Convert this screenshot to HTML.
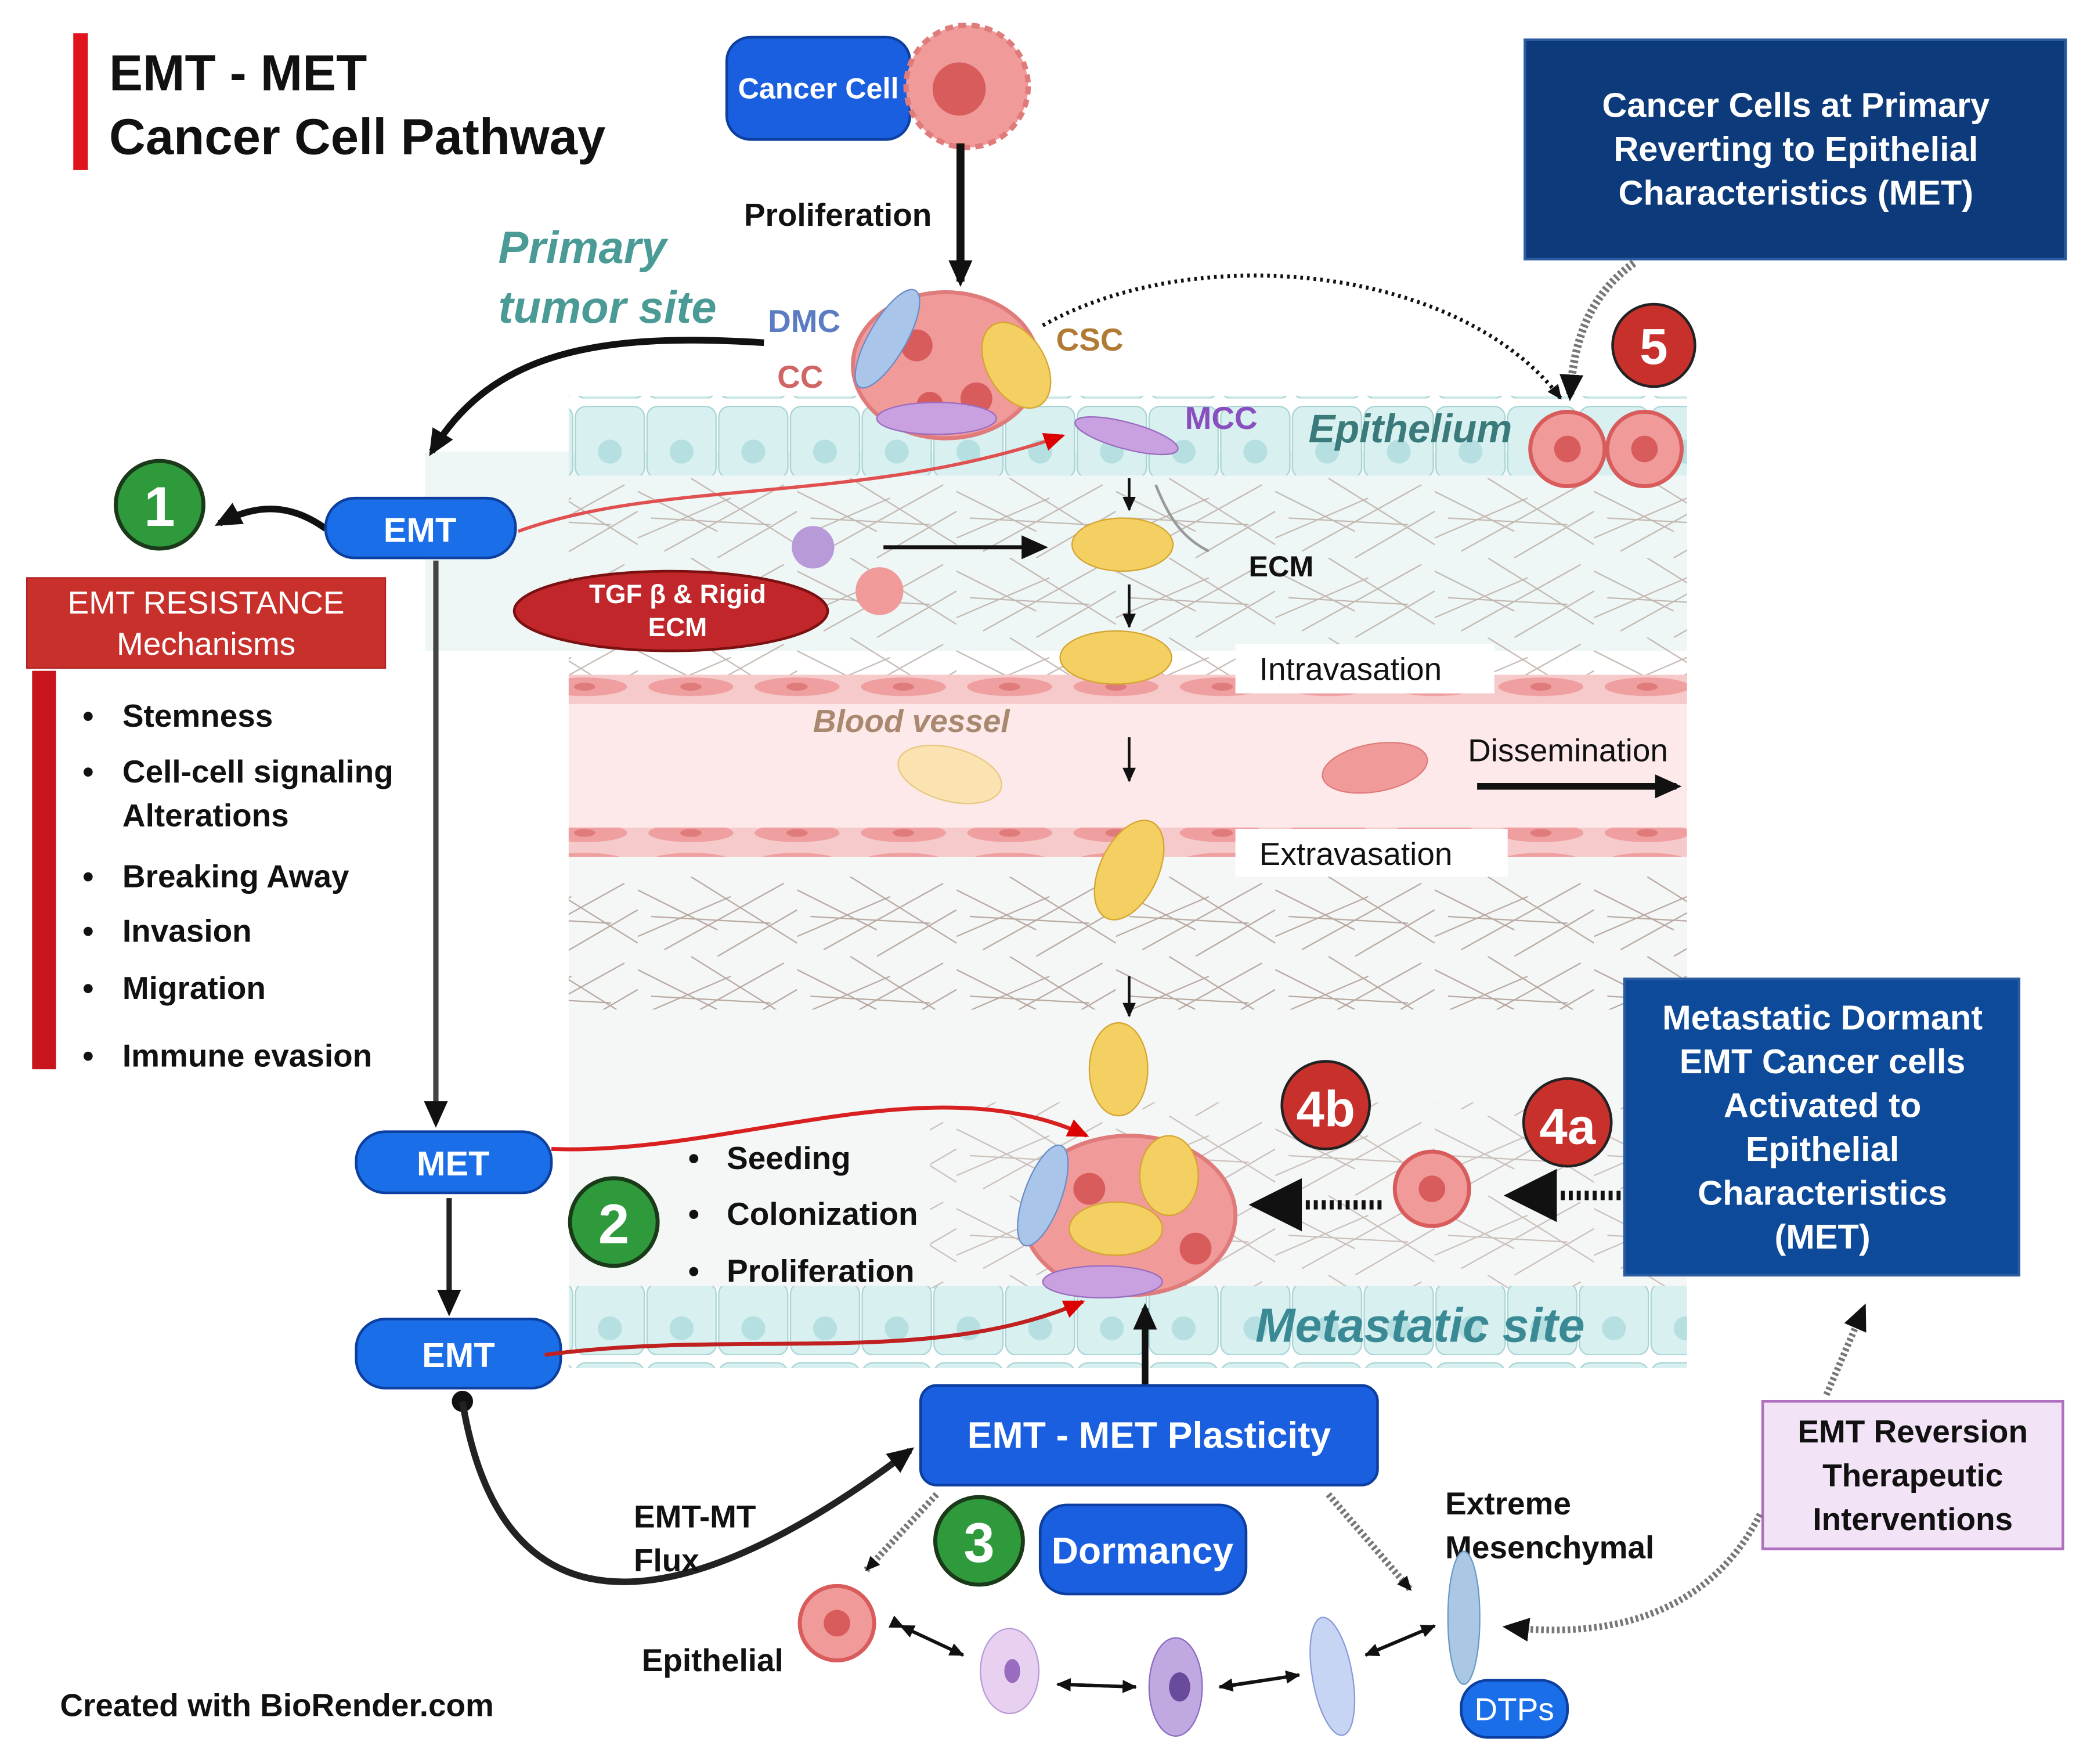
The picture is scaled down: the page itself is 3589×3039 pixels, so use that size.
<!DOCTYPE html>
<html><head><meta charset="utf-8"><style>html,body{margin:0;padding:0;background:#fff}svg{display:block}text{font-family:"Liberation Sans",sans-serif}</style></head><body>
<svg width="3589" height="3039" viewBox="0 0 1568 1328" xmlns="http://www.w3.org/2000/svg">
<defs>
<marker id="ah" markerWidth="22" markerHeight="22" refX="16" refY="11" orient="auto" markerUnits="userSpaceOnUse"><path d="M0,2 L20,11 L0,20 z" fill="#111"/></marker>
<marker id="ahs" markerWidth="12" markerHeight="12" refX="10" refY="6" orient="auto" markerUnits="userSpaceOnUse"><path d="M0,1 L11,6 L0,11 z" fill="#111"/></marker>
<marker id="ahr" markerWidth="18" markerHeight="18" refX="14" refY="9" orient="auto" markerUnits="userSpaceOnUse"><path d="M0,2 L16,9 L0,16 z" fill="#d00"/></marker>
<pattern id="fib" width="120" height="60" patternUnits="userSpaceOnUse">
<path d="M0,10 L60,40 M20,55 L110,5 M40,0 L120,50 M0,45 L70,15 M60,60 L120,25 M10,30 L100,35" stroke="#b8a8a0" stroke-width="1" fill="none"/>
</pattern>
<pattern id="epi" width="54" height="60" patternUnits="userSpaceOnUse">
<rect x="1" y="6" width="52" height="54" rx="8" fill="#d8f0f0" stroke="#a9d4d4"/><circle cx="27" cy="40" r="9" fill="#b5dfe0"/>
</pattern>
<pattern id="bv" width="80" height="22" patternUnits="userSpaceOnUse">
<rect width="80" height="22" fill="#f6caca"/><ellipse cx="40" cy="11" rx="32" ry="7" fill="#ef9f9f"/><ellipse cx="40" cy="11" rx="8" ry="3" fill="#e07b7b"/>
</pattern>
</defs>

<rect x="320" y="340" width="950" height="150" fill="#eef6f6"/>
<rect x="428" y="360" width="842" height="148" fill="url(#fib)" opacity="0.8"/>
<rect x="428" y="508" width="842" height="137" fill="#fde9e9"/>
<rect x="428" y="508" width="842" height="22" fill="url(#bv)"/>
<rect x="428" y="623" width="842" height="22" fill="url(#bv)"/>
<rect x="428" y="645" width="842" height="325" fill="#f5f7f7"/>
<rect x="428" y="660" width="842" height="100" fill="url(#fib)"/>
<rect x="700" y="830" width="570" height="140" fill="url(#fib)" opacity="0.7"/>
<rect x="428" y="298" width="842" height="60" fill="url(#epi)"/>
<rect x="428" y="968" width="842" height="62" fill="url(#epi)"/>

<rect x="55" y="25" width="11" height="103" fill="#e0141c"/>
<text x="82" y="68" font-size="38" font-weight="bold" fill="#111">EMT - MET</text>
<text x="82" y="116" font-size="38" font-weight="bold" fill="#111">Cancer Cell Pathway</text>

<rect x="547" y="28" width="138" height="77" rx="18" fill="#1a5fe0" stroke="#0d3fa0" stroke-width="2"/>
<text x="616" y="74" font-size="22" font-weight="bold" fill="#fff" text-anchor="middle">Cancer Cell</text>
<circle cx="728" cy="65" r="46" fill="#f19a9a" stroke="#e07b7b" stroke-width="4" stroke-dasharray="6 4"/>
<circle cx="722" cy="67" r="20" fill="#d95c5c"/>
<line x1="723" y1="108" x2="723" y2="212" stroke="#111" stroke-width="6" marker-end="url(#ah)"/>
<text x="560" y="170" font-size="24" font-weight="bold" fill="#111">Proliferation</text>
<text x="375" y="198" font-size="34" font-weight="bold" font-style="italic" fill="#4a9a95">Primary</text>
<text x="375" y="243" font-size="34" font-weight="bold" font-style="italic" fill="#4a9a95">tumor site</text>

<ellipse cx="712" cy="275" rx="70" ry="55" fill="#f19a9a" stroke="#e07b7b" stroke-width="3"/>
<circle cx="690" cy="260" r="12" fill="#d95c5c"/><circle cx="735" cy="300" r="12" fill="#d95c5c"/><circle cx="700" cy="305" r="10" fill="#d95c5c"/>
<ellipse cx="668" cy="255" rx="14" ry="42" transform="rotate(30 668 255)" fill="#a9c6ea" stroke="#6a8cc8"/>
<ellipse cx="765" cy="275" rx="22" ry="35" transform="rotate(-30 765 275)" fill="#f4cf62" stroke="#d4a530"/>
<ellipse cx="705" cy="315" rx="45" ry="12" fill="#c9a0e0" stroke="#9a6cc0"/>
<ellipse cx="848" cy="328" rx="40" ry="10" transform="rotate(15 848 328)" fill="#c9a0e0" stroke="#9a6cc0"/>
<text x="578" y="250" font-size="24" font-weight="bold" fill="#5b7cc2">DMC</text>
<text x="585" y="292" font-size="24" font-weight="bold" fill="#d06565">CC</text>
<text x="795" y="264" font-size="24" font-weight="bold" fill="#b07a35">CSC</text>
<text x="892" y="323" font-size="24" font-weight="bold" fill="#8a4fbf">MCC</text>
<text x="985" y="333" font-size="30" font-weight="bold" font-style="italic" fill="#3a7a7a">Epithelium</text>
<path d="M785,245 C900,180 1100,200 1175,300" stroke="#111" stroke-width="3" stroke-dasharray="2 3" fill="none" marker-end="url(#ahs)"/>

<rect x="1148" y="30" width="407" height="165" fill="#0d3a7a" stroke="#2a5aa0" stroke-width="2"/>
<text x="1352" y="88" font-size="26" font-weight="bold" fill="#fff" text-anchor="middle">Cancer Cells at Primary</text>
<text x="1352" y="121" font-size="26" font-weight="bold" fill="#fff" text-anchor="middle">Reverting to Epithelial</text>
<text x="1352" y="154" font-size="26" font-weight="bold" fill="#fff" text-anchor="middle">Characteristics (MET)</text>
<path d="M1230,198 C1200,220 1185,250 1182,298" stroke="#777" stroke-width="6" stroke-dasharray="2 2" fill="none" marker-end="url(#ah)"/>
<circle cx="1245" cy="260" r="31" fill="#c8302c" stroke="#222" stroke-width="2"/>
<text x="1245" y="274" font-size="38" font-weight="bold" fill="#fff" text-anchor="middle">5</text>
<circle cx="1180" cy="338" r="28" fill="#f19a9a" stroke="#d95c5c" stroke-width="3"/>
<circle cx="1238" cy="338" r="28" fill="#f19a9a" stroke="#d95c5c" stroke-width="3"/>
<circle cx="1180" cy="338" r="10" fill="#d95c5c"/><circle cx="1238" cy="338" r="10" fill="#d95c5c"/>

<ellipse cx="505" cy="460" rx="118" ry="30" fill="#c0262a" stroke="#7a1010" stroke-width="2"/>
<text x="510" y="454" font-size="20" font-weight="bold" fill="#fff" text-anchor="middle">TGF β &amp; Rigid</text>
<text x="510" y="479" font-size="20" font-weight="bold" fill="#fff" text-anchor="middle">ECM</text>
<circle cx="612" cy="412" r="16" fill="#b89ad8"/><circle cx="662" cy="445" r="18" fill="#f19a9a"/>
<line x1="665" y1="412" x2="785" y2="412" stroke="#111" stroke-width="3" marker-end="url(#ah)"/>
<ellipse cx="845" cy="410" rx="38" ry="20" fill="#f4cf62" stroke="#d4a530"/>
<line x1="850" y1="360" x2="850" y2="384" stroke="#111" stroke-width="2" marker-end="url(#ahs)"/>
<line x1="850" y1="440" x2="850" y2="472" stroke="#111" stroke-width="2" marker-end="url(#ahs)"/>
<path d="M870,365 C880,390 890,405 910,415" stroke="#999" stroke-width="2" fill="none"/>
<text x="940" y="434" font-size="22" font-weight="bold" fill="#111">ECM</text>
<ellipse cx="840" cy="495" rx="42" ry="20" fill="#f4cf62" stroke="#d4a530"/>
<rect x="930" y="485" width="195" height="37" fill="#fff"/>
<text x="948" y="512" font-size="24" fill="#111">Intravasation</text>
<text x="612" y="551" font-size="24" font-weight="bold" font-style="italic" fill="#a98870">Blood vessel</text>
<ellipse cx="715" cy="583" rx="40" ry="20" transform="rotate(15 715 583)" fill="#fae3b0" stroke="#e8c880"/>
<ellipse cx="1035" cy="578" rx="40" ry="18" transform="rotate(-10 1035 578)" fill="#f19a9a" stroke="#e07b7b"/>
<line x1="850" y1="555" x2="850" y2="588" stroke="#111" stroke-width="2" marker-end="url(#ahs)"/>
<text x="1105" y="573" font-size="24" fill="#111">Dissemination</text>
<line x1="1112" y1="592" x2="1262" y2="592" stroke="#111" stroke-width="5" marker-end="url(#ah)"/>
<rect x="930" y="624" width="205" height="36" fill="#fff"/>
<text x="948" y="651" font-size="24" fill="#111">Extravasation</text>
<ellipse cx="850" cy="655" rx="22" ry="40" transform="rotate(25 850 655)" fill="#f4cf62" stroke="#d4a530"/>
<line x1="850" y1="735" x2="850" y2="765" stroke="#111" stroke-width="2" marker-end="url(#ahs)"/>
<ellipse cx="842" cy="805" rx="22" ry="35" fill="#f4cf62" stroke="#d4a530"/>

<circle cx="120" cy="380" r="33" fill="#2e9a3c" stroke="#1a3a1a" stroke-width="3"/>
<text x="120" y="396" font-size="42" font-weight="bold" fill="#fff" text-anchor="middle">1</text>
<path d="M245,398 C220,380 195,378 165,394" stroke="#111" stroke-width="5" fill="none" marker-end="url(#ah)"/>
<path d="M575,258 C450,250 370,265 325,340" stroke="#111" stroke-width="5" fill="none" marker-end="url(#ah)"/>
<rect x="245" y="375" width="143" height="45" rx="22" fill="#1a6fe8" stroke="#0d3fa0" stroke-width="2"/>
<text x="316" y="408" font-size="26" font-weight="bold" fill="#fff" text-anchor="middle">EMT</text>
<path d="M390,400 C500,360 650,380 800,328" stroke="#e05050" stroke-width="2.5" fill="none" marker-end="url(#ahr)"/>
<rect x="20" y="435" width="270" height="68" fill="#c8302c" stroke="#b02020"/>
<text x="155" y="462" font-size="24" fill="#fff" text-anchor="middle">EMT RESISTANCE</text>
<text x="155" y="493" font-size="24" fill="#fff" text-anchor="middle">Mechanisms</text>
<rect x="24" y="505" width="18" height="300" fill="#c8141c"/>
<g font-size="24" font-weight="bold" fill="#111">
<text x="62" y="547">•</text><text x="92" y="547">Stemness</text>
<text x="62" y="589">•</text><text x="92" y="589">Cell-cell signaling</text>
<text x="92" y="622">Alterations</text>
<text x="62" y="668">•</text><text x="92" y="668">Breaking Away</text>
<text x="62" y="709">•</text><text x="92" y="709">Invasion</text>
<text x="62" y="752">•</text><text x="92" y="752">Migration</text>
<text x="62" y="803">•</text><text x="92" y="803">Immune evasion</text>
</g>
<line x1="328" y1="422" x2="328" y2="845" stroke="#444" stroke-width="4" marker-end="url(#ah)"/>
<rect x="268" y="852" width="147" height="46" rx="22" fill="#1a6fe8" stroke="#0d3fa0" stroke-width="2"/>
<text x="341" y="885" font-size="26" font-weight="bold" fill="#fff" text-anchor="middle">MET</text>
<line x1="338" y1="902" x2="338" y2="987" stroke="#222" stroke-width="4" marker-end="url(#ah)"/>
<rect x="268" y="993" width="154" height="52" rx="22" fill="#1a6fe8" stroke="#0d3fa0" stroke-width="2"/>
<text x="345" y="1029" font-size="26" font-weight="bold" fill="#fff" text-anchor="middle">EMT</text>
<path d="M415,865 C550,870 700,800 818,855" stroke="#d82020" stroke-width="3" fill="none" marker-end="url(#ahr)"/>
<path d="M410,1020 C560,1000 700,1030 815,980" stroke="#c02020" stroke-width="3" fill="none" marker-end="url(#ahr)"/>
<circle cx="348" cy="1055" r="8" fill="#111"/>
<path d="M348,1055 C380,1250 530,1210 685,1092" stroke="#222" stroke-width="5" fill="none" marker-end="url(#ah)"/>
<circle cx="462" cy="920" r="33" fill="#2e9a3c" stroke="#1a3a1a" stroke-width="3"/>
<text x="462" y="936" font-size="42" font-weight="bold" fill="#fff" text-anchor="middle">2</text>
<g font-size="24" font-weight="bold" fill="#111">
<text x="518" y="880">•</text><text x="547" y="880">Seeding</text>
<text x="518" y="922">•</text><text x="547" y="922">Colonization</text>
<text x="518" y="965">•</text><text x="547" y="965">Proliferation</text>
</g>

<ellipse cx="850" cy="915" rx="80" ry="60" fill="#f19a9a" stroke="#e07b7b" stroke-width="3"/>
<circle cx="820" cy="895" r="12" fill="#d95c5c"/><circle cx="900" cy="940" r="12" fill="#d95c5c"/>
<ellipse cx="785" cy="900" rx="14" ry="40" transform="rotate(20 785 900)" fill="#a9c6ea" stroke="#6a8cc8"/>
<ellipse cx="880" cy="885" rx="22" ry="30" fill="#f4cf62" stroke="#d4a530"/>
<ellipse cx="840" cy="925" rx="35" ry="20" fill="#f4cf62" stroke="#d4a530"/>
<ellipse cx="830" cy="965" rx="45" ry="12" fill="#c9a0e0" stroke="#9a6cc0"/>
<text x="945" y="1010" font-size="36" font-weight="bold" font-style="italic" fill="#3a8a95">Metastatic site</text>
<circle cx="998" cy="832" r="33" fill="#c8302c" stroke="#222" stroke-width="2"/>
<text x="998" y="848" font-size="38" font-weight="bold" fill="#fff" text-anchor="middle">4b</text>
<circle cx="1180" cy="845" r="33" fill="#c8302c" stroke="#222" stroke-width="2"/>
<text x="1180" y="861" font-size="38" font-weight="bold" fill="#fff" text-anchor="middle">4a</text>
<line x1="1040" y1="907" x2="980" y2="907" stroke="#111" stroke-width="7" stroke-dasharray="3 3"/>
<path d="M980,887 L940,907 L980,927 z" fill="#111"/>
<circle cx="1078" cy="895" r="28" fill="#f19a9a" stroke="#d95c5c" stroke-width="3"/><circle cx="1078" cy="895" r="10" fill="#d95c5c"/>
<line x1="1232" y1="900" x2="1172" y2="900" stroke="#111" stroke-width="7" stroke-dasharray="3 3"/>
<path d="M1172,880 L1132,900 L1172,920 z" fill="#111"/>
<rect x="1223" y="737" width="297" height="223" fill="#0d4a99" stroke="#2a5aa0" stroke-width="2"/>
<g font-size="26" font-weight="bold" fill="#fff" text-anchor="middle">
<text x="1372" y="775">Metastatic Dormant</text>
<text x="1372" y="808">EMT Cancer cells</text>
<text x="1372" y="841">Activated to</text>
<text x="1372" y="874">Epithelial</text>
<text x="1372" y="907">Characteristics</text>
<text x="1372" y="940">(MET)</text>
</g>

<line x1="862" y1="1045" x2="862" y2="985" stroke="#111" stroke-width="5" marker-end="url(#ah)"/>
<rect x="693" y="1043" width="344" height="75" rx="12" fill="#1a5fe0" stroke="#0d3fa0" stroke-width="2"/>
<text x="865" y="1090" font-size="28" font-weight="bold" fill="#fff" text-anchor="middle">EMT - MET Plasticity</text>
<circle cx="737" cy="1160" r="33" fill="#2e9a3c" stroke="#1a3a1a" stroke-width="3"/>
<text x="737" y="1176" font-size="42" font-weight="bold" fill="#fff" text-anchor="middle">3</text>
<rect x="783" y="1133" width="155" height="67" rx="20" fill="#1a5fe0" stroke="#0d3fa0" stroke-width="2"/>
<text x="860" y="1177" font-size="28" font-weight="bold" fill="#fff" text-anchor="middle">Dormancy</text>
<text x="477" y="1150" font-size="24" font-weight="bold" fill="#111">EMT-MT</text>
<text x="477" y="1183" font-size="24" font-weight="bold" fill="#111">Flux</text>
<line x1="705" y1="1125" x2="652" y2="1182" stroke="#777" stroke-width="5" stroke-dasharray="2 2" marker-end="url(#ahs)"/>
<line x1="1000" y1="1125" x2="1062" y2="1197" stroke="#777" stroke-width="5" stroke-dasharray="2 2" marker-end="url(#ahs)"/>
<text x="1088" y="1140" font-size="24" font-weight="bold" fill="#111">Extreme</text>
<text x="1088" y="1173" font-size="24" font-weight="bold" fill="#111">Mesenchymal</text>
<text x="483" y="1258" font-size="24" font-weight="bold" fill="#111">Epithelial</text>
<circle cx="630" cy="1222" r="28" fill="#f19a9a" stroke="#d95c5c" stroke-width="3"/><circle cx="630" cy="1222" r="10" fill="#d95c5c"/>
<ellipse cx="760" cy="1258" rx="22" ry="32" fill="#e8d0f0" stroke="#b89ad8"/><ellipse cx="762" cy="1258" rx="6" ry="9" fill="#9a6cc0"/>
<ellipse cx="885" cy="1270" rx="20" ry="37" fill="#c0a8e0" stroke="#8a6cc0"/><ellipse cx="888" cy="1270" rx="8" ry="11" fill="#6a4a9a"/>
<ellipse cx="1003" cy="1262" rx="15" ry="45" transform="rotate(-10 1003 1262)" fill="#c8d4f4" stroke="#8a9cd8"/>
<ellipse cx="1102" cy="1218" rx="12" ry="50" fill="#aac8e4" stroke="#6a9ac8"/>
<g stroke="#111" stroke-width="2.5">
<line x1="680" y1="1225" x2="725" y2="1246" marker-end="url(#ahs)" marker-start="url(#ahs)"/>
<line x1="798" y1="1268" x2="855" y2="1270" marker-end="url(#ahs)"/>
<line x1="855" y1="1270" x2="796" y2="1268" marker-end="url(#ahs)"/>
<line x1="920" y1="1270" x2="978" y2="1261" marker-end="url(#ahs)"/>
<line x1="978" y1="1261" x2="918" y2="1270" marker-end="url(#ahs)"/>
<line x1="1030" y1="1245" x2="1080" y2="1224" marker-end="url(#ahs)"/>
<line x1="1080" y1="1224" x2="1028" y2="1246" marker-end="url(#ahs)"/>
<line x1="725" y1="1246" x2="678" y2="1224" marker-end="url(#ahs)"/>
</g>
<rect x="1100" y="1265" width="80" height="43" rx="20" fill="#1a6fe8" stroke="#0d3fa0" stroke-width="2"/>
<text x="1140" y="1295" font-size="24" fill="#fff" text-anchor="middle">DTPs</text>
<rect x="1327" y="1055" width="226" height="111" fill="#f3e3f7" stroke="#b070c0" stroke-width="2"/>
<g font-size="24" font-weight="bold" fill="#111" text-anchor="middle">
<text x="1440" y="1086">EMT Reversion</text>
<text x="1440" y="1119">Therapeutic</text>
<text x="1440" y="1152">Interventions</text>
</g>
<line x1="1375" y1="1050" x2="1403" y2="985" stroke="#777" stroke-width="5" stroke-dasharray="2 2" marker-end="url(#ah)"/>
<path d="M1325,1140 C1290,1210 1220,1235 1135,1225" stroke="#777" stroke-width="5" stroke-dasharray="2 2" fill="none" marker-end="url(#ah)"/>
<text x="45" y="1292" font-size="24" font-weight="bold" fill="#111">Created with BioRender.com</text>
</svg>
</body></html>
